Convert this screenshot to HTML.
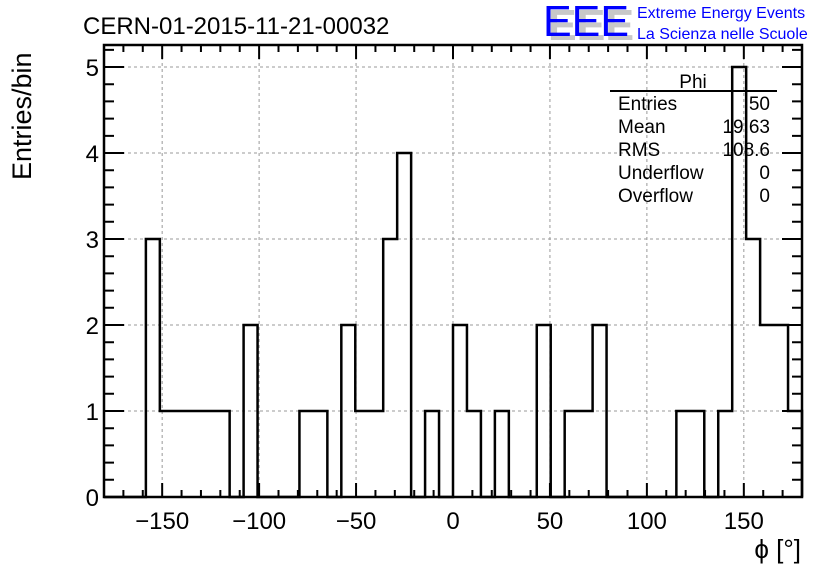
<!DOCTYPE html>
<html><head><meta charset="utf-8"><style>
body{margin:0;background:#fff}
svg{display:block;font-family:"Liberation Sans",sans-serif}
</style></head><body>
<svg id="c" width="836" height="572" viewBox="0 0 836 572">
<rect width="836" height="572" fill="#fff"/>
<text x="83" y="34" font-size="24">CERN-01-2015-11-21-00032</text>
<g>
<text x="548" y="40" font-size="44" fill="#c8c8c8" font-weight="bold" textLength="86" lengthAdjust="spacingAndGlyphs">EEE</text>
<text x="543" y="36" font-size="44" fill="#0000ff" textLength="86" lengthAdjust="spacingAndGlyphs">EEE</text>
<text x="637" y="18" font-size="16" fill="#0000ff">Extreme Energy Events</text>
<text x="637" y="39" font-size="16" fill="#0000ff">La Scienza nelle Scuole</text>
</g>
<g id="grid"></g>
<g id="axes"></g>
<path id="hist" fill="none" stroke="#000" stroke-width="2.5"/>
<rect x="104" y="45" width="698" height="452" fill="none" stroke="#000" stroke-width="2.5"/>
<text transform="translate(31,180) rotate(-90)" font-size="27">Entries/bin</text>
<text x="801" y="558" font-size="26" text-anchor="end">ϕ [°]</text>
<g font-size="19">
<text x="693" y="88" text-anchor="middle">Phi</text>
<line x1="610" y1="91" x2="777" y2="91" stroke="#000" stroke-width="2"/>
<text x="618" y="110">Entries</text><text x="770" y="110" text-anchor="end">50</text>
<text x="618" y="133">Mean</text><text x="770" y="133" text-anchor="end">19.63</text>
<text x="618" y="156">RMS</text><text x="770" y="156" text-anchor="end">108.6</text>
<text x="618" y="179">Underflow</text><text x="770" y="179" text-anchor="end">0</text>
<text x="618" y="202">Overflow</text><text x="770" y="202" text-anchor="end">0</text>
</g>
</svg>
<script>
const binCounts=[0,0,0,3,1,1,1,1,1,0,2,0,0,0,1,1,0,2,1,1,3,4,0,1,0,2,1,0,1,0,0,2,0,1,1,2,0,0,0,0,0,1,1,0,1,5,3,2,2,1];
const xTicks=[-150,-100,-50,0,50,100,150];
const xTickLabels=["\u2212150","\u2212100","\u221250","0","50","100","150"];
const yTicks=[0,1,2,3,4,5];
const xMin=-180,xMax=180,yMin=0,yMax=5.256;
const L=104,R=802,T=45,B=497;
const sx=v=>L+(v-xMin)/(xMax-xMin)*(R-L);
const sy=v=>B-(v-yMin)/(yMax-yMin)*(B-T);
const NS="http://www.w3.org/2000/svg";
const grid=document.getElementById('grid'),axes=document.getElementById('axes');
function mk(tag,attrs,parent){const e=document.createElementNS(NS,tag);for(const k in attrs)e.setAttribute(k,attrs[k]);parent.appendChild(e);return e;}
xTicks.forEach((v,i)=>{
 const g=mk('line',{x1:sx(v),x2:sx(v),y1:T,y2:B,stroke:'#999','stroke-dasharray':'3,3','stroke-width':1},grid);
 
 
 const t=mk('text',{x:sx(v),y:529,'font-size':24,'text-anchor':'middle'},axes);
 t.textContent=xTickLabels[i];
 
 
});
yTicks.forEach(v=>{
 if(v>0){const g=mk('line',{x1:L,x2:R,y1:sy(v),y2:sy(v),stroke:'#999','stroke-dasharray':'3,3','stroke-width':1},grid);
 
 }
 const t=mk('text',{x:99,y:sy(v)+9,'font-size':24,'text-anchor':'end'},axes);
 t.textContent=v;
 
 
});
let d='';
for(let v=-170;v<=170;v+=10){const maj=v%50===0;const len=maj?14:7;
 d+=`M${sx(v)},${B}v${-len}M${sx(v)},${T}v${len}`;}
for(let k=0;k<=26;k++){const v=k*0.2;const maj=k%5===0;const len=maj?20:10;
 d+=`M${L},${sy(v)}h${len}M${R},${sy(v)}h${-len}`;}
const tk=mk('path',{d:d,stroke:'#000','stroke-width':2,fill:'none'},axes);


const w=(xMax-xMin)/binCounts.length;
let h=`M${sx(xMin)},${sy(0)}`;
binCounts.forEach((c,i)=>{const x0=sx(xMin+i*w),x1=sx(xMin+(i+1)*w);h+=`L${x0},${sy(c)}L${x1},${sy(c)}`;});
h+=`L${sx(xMax)},${sy(0)}`;
document.getElementById('hist').setAttribute('d',h);
</script>
</body></html>
